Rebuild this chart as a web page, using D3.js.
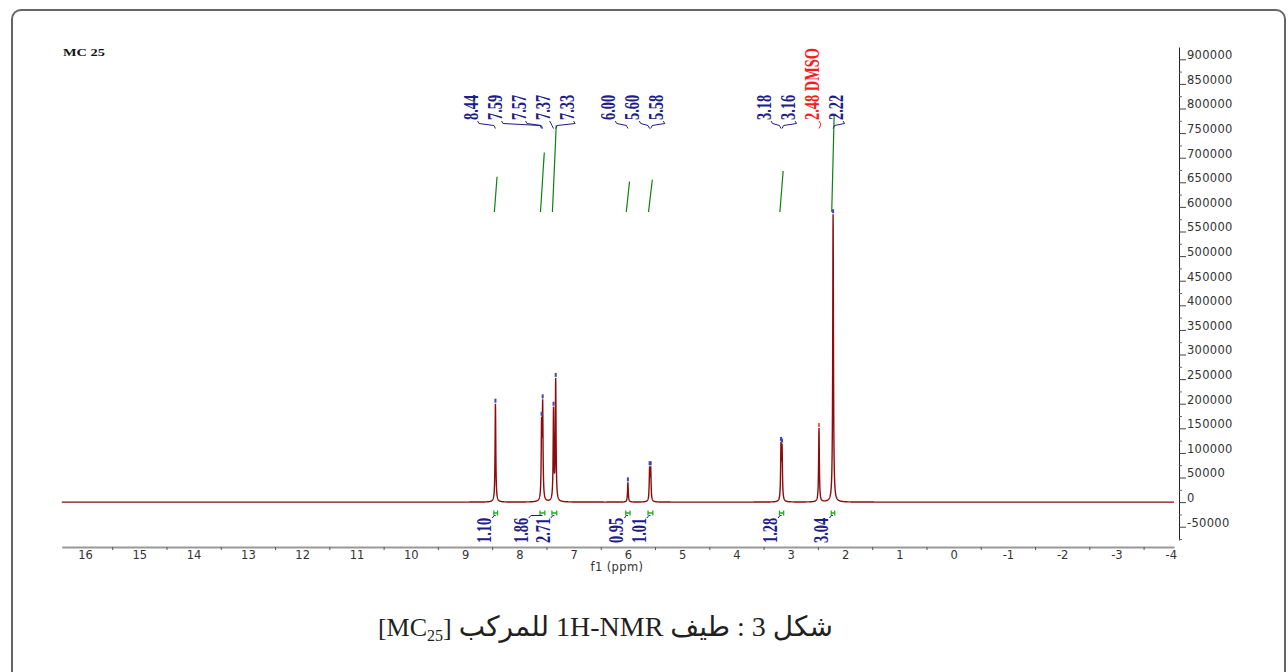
<!DOCTYPE html>
<html>
<head>
<meta charset="utf-8">
<script src="https://cdn.jsdelivr.net/npm/d3@7"></script>
<style>
  body { margin: 0; background: #fff; }
</style>
</head>
<body>
<div id="chart"></div>
<script>
// peak list: shift (ppm) and intensity
var peakShifts = [8.44, 7.59, 7.57, 7.37, 7.33, 6.00, 5.60, 5.58, 3.18, 3.16, 2.48, 2.22];
var peakHeights = [200000, 147000, 188000, 184000, 245000, 40000, 64000, 64000, 108000, 104000, 150000, 585000];
var peakLabels = ["8.44", "7.59", "7.57", "7.37", "7.33", "6.00", "5.60", "5.58", "3.18", "3.16", "2.48 DMSO", "2.22"];
var solventLabel = "2.48 DMSO";

// integral regions (ppm) and their values
var integralFrom = [8.46, 7.61, 7.39, 6.03, 5.62, 3.20, 2.245];
var integralTo = [8.41, 7.54, 7.32, 5.97, 5.55, 3.14, 2.20];
var integralValues = [1.10, 1.86, 2.71, 0.95, 1.01, 1.28, 3.04];

// axis ticks
var xTicks = d3.range(16, -5, -1);
var xMinorTicks = d3.range(15.5, -4, -1);
var yTicks = d3.range(-50000, 900001, 50000);
var yMinorTicks = d3.range(-75000, 925000, 50000);

var sampleTitle = "MC 25";
var captionArabic = "شكل 3 : طيف 1H-NMR للمركب";

var svgWidth = 1288;
var svgHeight = 672;

var svg = d3.select("#chart")
  .append("svg")
  .attr("width", svgWidth)
  .attr("height", svgHeight);

// frame
svg.append("rect")
  .attr("x", 12)
  .attr("y", 10)
  .attr("width", 1273)
  .attr("height", 700)
  .attr("rx", 9)
  .attr("fill", "none")
  .attr("stroke", "#666")
  .attr("stroke-width", 2);

// scales
var x = d3.scaleLinear().domain([16.43, -4.06]).range([61.7, 1174]);
var y = d3.scaleLinear().domain([-77000, 925000]).range([540, 47]);
var yInt = d3.scaleLinear().domain([0, 1]).range([212, 180]);

// lorentzian line shape around each picked peak
var halfWidth = 0.008;
function intensity(ppm) {
  var s = 0;
  peakShifts.forEach(function(p, i) {
    var d = (ppm - p) / halfWidth;
    s += peakHeights[i] / (1 + d * d);
  });
  return s;
}

var grid = d3.range(-4.06, 16.43, 0.002).concat(peakShifts);
grid.sort(function(a, b) { return b - a; });
var spectrum = grid.map(function(p) { return [p, intensity(p)]; });

var line = d3.line()
  .x(d => x(d[0]))
  .y(d => y(d[1]));

// integral curves
var chartGroup = svg.append("g");

chartGroup.selectAll(".integral")
  .data(integralValues)
  .enter()
  .append("line")
  .attr("x1", (d, i) => x(integralFrom[i]))
  .attr("y1", yInt(0))
  .attr("x2", (d, i) => x(integralTo[i]))
  .attr("y2", d => yInt(d))
  .attr("stroke", "#108010")
  .attr("stroke-width", 1.2);

chartGroup.append("path")
  .datum(spectrum)
  .attr("d", line)
  .attr("fill", "none")
  .attr("stroke", "#8b0c0c")
  .attr("stroke-width", 1.4);

// peak pick markers
chartGroup.selectAll(".pick")
  .data(peakShifts)
  .enter()
  .append("rect")
  .attr("x", d => x(d) - 1)
  .attr("y", d => y(intensity(d)) - 5)
  .attr("width", 2)
  .attr("height", 4)
  .attr("fill", (d, i) => peakLabels[i] === solventLabel ? "#ff5a5a" : "#4646b0");

// spread labels so they do not overlap: groups are centred on their peaks
function spreadLabels(xs, gap) {
  var groups = xs.map(function(v, i) { return { lo: v, hi: v, idx: [i] }; });
  var merged = true;
  while (merged) {
    merged = false;
    for (var i = 0; i < groups.length - 1; i++) {
      var a = groups[i], b = groups[i + 1];
      var aEnd = (a.lo + a.hi) / 2 + (a.idx.length - 1) * gap / 2;
      var bStart = (b.lo + b.hi) / 2 - (b.idx.length - 1) * gap / 2;
      if (bStart - aEnd < gap) {
        groups.splice(i, 2, { lo: a.lo, hi: b.hi, idx: a.idx.concat(b.idx) });
        merged = true;
        break;
      }
    }
  }
  var out = [];
  groups.forEach(function(g) {
    var start = (g.lo + g.hi) / 2 - (g.idx.length - 1) * gap / 2;
    g.idx.forEach(function(k, j) { out[k] = start + j * gap; });
  });
  return out;
}

var peakX = peakShifts.map(d => x(d));
var labelX = spreadLabels(peakX, 24);
var labelFont = "'Liberation Serif', 'Times New Roman', serif";

var peakLabelGroup = chartGroup.append("g");

peakLabelGroup.selectAll("text")
  .data(peakLabels)
  .enter()
  .append("text")
  .attr("transform", (d, i) => `translate(${labelX[i]}, 120) rotate(-90) scale(0.72, 1)`)
  .attr("font-family", labelFont)
  .attr("font-weight", "bold")
  .attr("font-size", 20)
  .attr("fill", d => d === solventLabel ? "#ff1a1a" : "#1c1c8c")
  .text(d => d);

peakLabelGroup.selectAll("polyline")
  .data(peakLabels)
  .enter()
  .append("polyline")
  .attr("points", function(d, i) {
    var a = labelX[i], p = peakX[i];
    return [[a, 121], [a + 1.5, 123.5], [p - 1.5 * Math.sign(p - a), 125.5], [p, 128.5]].join(" ");
  })
  .attr("fill", "none")
  .attr("stroke", (d, i) => peakLabels[i] === solventLabel ? "#ff1a1a" : "#1c1c8c")
  .attr("stroke-width", 1);

// integral labels below the baseline, pushed left when they collide
var markX = integralFrom.map((d, i) => (x(d) + x(integralTo[i])) / 2);
var intLabelX = markX.map(d => d - 4.5);
for (var k = intLabelX.length - 2; k >= 0; k--) {
  intLabelX[k] = Math.min(intLabelX[k], intLabelX[k + 1] - 22);
}

var intGroup = chartGroup.append("g");

intGroup.selectAll("path.mark")
  .data(integralValues)
  .enter()
  .append("path")
  .attr("d", function(d, i) {
    var a = x(integralFrom[i]) - 0.5, b = x(integralTo[i]) + 0.5;
    return `M${a},510.5V515.5M${b},510.5V515.5M${a},513H${b}`;
  })
  .attr("fill", "none")
  .attr("stroke", "#22b022")
  .attr("stroke-width", 1.3);

intGroup.selectAll("polyline")
  .data(integralValues)
  .enter()
  .append("polyline")
  .attr("points", (d, i) => [[intLabelX[i] + 1, 518], [intLabelX[i] + 3, 515.5], [markX[i], 515.5]].join(" "))
  .attr("fill", "none")
  .attr("stroke", "#1c1c8c")
  .attr("stroke-width", 1);

intGroup.selectAll("text")
  .data(integralValues)
  .enter()
  .append("text")
  .attr("transform", (d, i) => `translate(${intLabelX[i]}, 543) rotate(-90) scale(0.72, 1)`)
  .attr("font-family", labelFont)
  .attr("font-weight", "bold")
  .attr("font-size", 20)
  .attr("fill", "#1c1c8c")
  .text(d => d.toFixed(2));

// x axis
var bottomAxis = d3.axisBottom(x)
  .tickValues(xTicks)
  .tickSize(0)
  .tickPadding(4)
  .tickFormat(String);

var xAxis = svg.append("g")
  .attr("transform", "translate(0, 547)")
  .call(bottomAxis);

xAxis.select(".domain").attr("stroke", "#999").attr("stroke-width", 2);
xAxis.selectAll("text")
  .attr("font-family", "'DejaVu Sans', Verdana, sans-serif")
  .attr("font-size", 11.5)
  .attr("fill", "#333");

svg.append("g")
  .attr("transform", "translate(0, 547)")
  .call(d3.axisBottom(x).tickValues(xMinorTicks).tickSize(3).tickFormat(""))
  .call(g => g.select(".domain").remove())
  .selectAll("line").attr("stroke", "#555");

svg.append("text")
  .attr("x", 617)
  .attr("y", 571)
  .attr("text-anchor", "middle")
  .attr("font-family", "'DejaVu Sans', Verdana, sans-serif")
  .attr("font-size", 11.5)
  .attr("letter-spacing", 0.4)
  .attr("fill", "#333")
  .text("f1 (ppm)");

// y axis on the right
var rightAxis = d3.axisRight(y)
  .tickValues(yTicks)
  .tickSize(7)
  .tickSizeOuter(0)
  .tickPadding(1)
  .tickFormat(String);

var yAxis = svg.append("g")
  .attr("transform", "translate(1179, 0)")
  .call(rightAxis);

yAxis.select(".domain").attr("stroke", "#222");
yAxis.selectAll("line").attr("stroke", "#444");
yAxis.selectAll("text")
  .attr("dy", "-0.05em")
  .attr("font-family", "'DejaVu Sans', Verdana, sans-serif")
  .attr("font-size", 11.5)
  .attr("letter-spacing", 0.3)
  .attr("fill", "#333");

svg.append("g")
  .attr("transform", "translate(1179, 0)")
  .call(d3.axisRight(y).tickValues(yMinorTicks).tickSize(3).tickFormat(""))
  .call(g => g.select(".domain").remove())
  .selectAll("line").attr("stroke", "#666");

// sample title
svg.append("text")
  .attr("x", 63)
  .attr("y", 56)
  .attr("font-family", labelFont)
  .attr("font-weight", "bold")
  .attr("font-size", 10.5)
  .attr("textLength", 42)
  .attr("lengthAdjust", "spacingAndGlyphs")
  .attr("fill", "#111")
  .text(sampleTitle);

// caption (Arabic part right-to-left, compound code left of it)
var capAr = svg.append("text")
  .attr("y", 636)
  .attr("direction", "rtl")
  .style("direction", "rtl")
  .attr("text-anchor", "middle")
  .attr("font-family", "'Liberation Serif', 'DejaVu Sans', serif")
  .attr("font-size", 28)
  .attr("fill", "#231f20")
  .text(captionArabic);

var arLen = capAr.node().getComputedTextLength();
capAr.attr("x", 833 - arLen / 2);

var capCode = svg.append("text")
  .attr("x", 833 - arLen - 7)
  .attr("y", 636)
  .attr("text-anchor", "end")
  .attr("font-family", "'Liberation Serif', serif")
  .attr("font-size", 26)
  .attr("fill", "#231f20");

capCode.append("tspan").text("[MC");
capCode.append("tspan").attr("font-size", 16).attr("dy", 5).text("25");
capCode.append("tspan").attr("dy", -5).text("]");
</script>
</body>
</html>
